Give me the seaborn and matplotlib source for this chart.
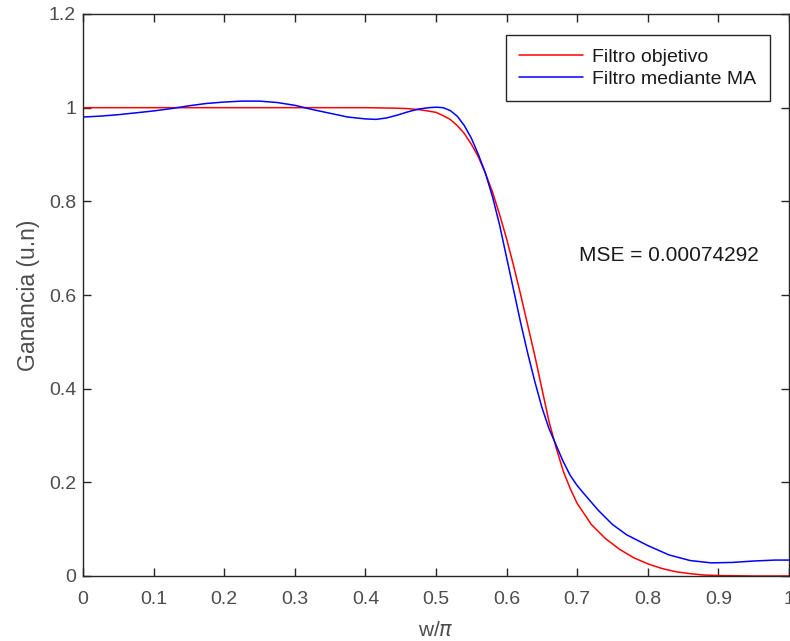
import numpy as np
import pandas as pd
import matplotlib
matplotlib.use("Agg")
import matplotlib.pyplot as plt
import seaborn as sns

# --- data ---
x_obj = [0.0, 0.1, 0.2, 0.3, 0.4, 0.44, 0.46, 0.48, 0.50, 0.51, 0.52, 0.53, 0.54, 0.55,
         0.56, 0.57, 0.58, 0.59, 0.60, 0.61, 0.62, 0.63, 0.64, 0.65, 0.66, 0.67, 0.68,
         0.69, 0.70, 0.72, 0.74, 0.76, 0.78, 0.80, 0.82, 0.84, 0.86, 0.88, 0.90, 0.95, 1.0]
y_obj = [1.0, 1.0, 1.0, 1.0, 1.0, 0.999, 0.998, 0.995, 0.99, 0.983, 0.975, 0.962, 0.945,
         0.922, 0.895, 0.86, 0.82, 0.772, 0.72, 0.662, 0.60, 0.535, 0.47, 0.40, 0.33,
         0.275, 0.225, 0.187, 0.155, 0.11, 0.08, 0.057, 0.039, 0.026, 0.016, 0.009,
         0.005, 0.002, 0.001, 0.0, 0.0]

x_ma = [0.0, 0.025, 0.05, 0.075, 0.10, 0.125, 0.15, 0.175, 0.20, 0.225, 0.25, 0.275,
        0.30, 0.325, 0.35, 0.375, 0.40, 0.415, 0.43, 0.445, 0.46, 0.475, 0.49, 0.50,
        0.51, 0.52, 0.53, 0.54, 0.55, 0.56, 0.57, 0.58, 0.59, 0.60, 0.61, 0.62, 0.63,
        0.64, 0.65, 0.66, 0.67, 0.68, 0.69, 0.70, 0.71, 0.73, 0.75, 0.77, 0.80, 0.83,
        0.86, 0.89, 0.92, 0.95, 0.98, 1.0]
y_ma = [0.980, 0.982, 0.985, 0.989, 0.993, 0.998, 1.004, 1.009, 1.012, 1.014, 1.014,
        1.011, 1.005, 0.996, 0.988, 0.980, 0.976, 0.975, 0.978, 0.984, 0.991, 0.997,
        1.0, 1.001, 1.0, 0.994, 0.982, 0.962, 0.935, 0.90, 0.86, 0.81, 0.75, 0.68,
        0.61, 0.54, 0.475, 0.415, 0.36, 0.315, 0.28, 0.245, 0.215, 0.193, 0.175, 0.14,
        0.11, 0.088, 0.065, 0.045, 0.033, 0.028, 0.029, 0.032, 0.034, 0.034]

labels = ["Filtro objetivo", "Filtro mediante MA"]
xticks = [0, 0.1, 0.2, 0.3, 0.4, 0.5, 0.6, 0.7, 0.8, 0.9, 1]
xticklabels = ["0", "0.1", "0.2", "0.3", "0.4", "0.5", "0.6", "0.7", "0.8", "0.9", "1"]
yticks = [0, 0.2, 0.4, 0.6, 0.8, 1.0, 1.2]
yticklabels = ["0", "0.2", "0.4", "0.6", "0.8", "1", "1.2"]
mse_text = "MSE = 0.00074292"

df = pd.concat([
    pd.DataFrame({"w": x_obj, "g": y_obj, "serie": labels[0]}),
    pd.DataFrame({"w": x_ma, "g": y_ma, "serie": labels[1]}),
])

sns.set_style("ticks")
plt.rcParams["font.family"] = ["Liberation Sans", "DejaVu Sans"]
plt.rcParams["mathtext.fontset"] = "dejavusans"

axc = "#262626"
fig = plt.figure(figsize=(7.9, 6.41), dpi=100)
ax = fig.add_axes([83/790, 1 - 576/641, 706/790, (576 - 14)/641])

sns.lineplot(data=df, x="w", y="g", hue="serie", palette=["#ff0000", "#0000ff"],
             linewidth=1.1, sort=False, estimator=None, ax=ax)

ax.set_xlim(0, 1)
ax.set_ylim(0, 1.2)
ax.set_xticks(xticks)
ax.set_xticklabels(xticklabels)
ax.set_yticks(yticks)
ax.set_yticklabels(yticklabels)
ax.tick_params(direction="in", length=6, width=1, colors=axc, labelsize=14,
               top=True, right=True, labelcolor="#4d4d4d")
ax.tick_params(axis="x", pad=11)
ax.tick_params(axis="y", pad=5)
for s in ax.spines.values():
    s.set_color(axc)
    s.set_linewidth(1.0)

ax.set_xlabel(r"w/$\pi$", fontsize=15, color="#4d4d4d", labelpad=9)
ax.set_ylabel("Ganancia (u.n)", fontsize=16.5, color="#4d4d4d", labelpad=6)

ax.text(0.703, 0.685, mse_text, fontsize=15, color="#1a1a1a", ha="left", va="center")

leg = ax.legend(loc="upper right", bbox_to_anchor=(0.973, 0.963), borderaxespad=0,
                fontsize=14, frameon=True, fancybox=False, shadow=False,
                handlelength=3.3, handletextpad=0.45, labelspacing=0.2, borderpad=0.7,
                title=None)
leg.get_frame().set_edgecolor(axc)
leg.get_frame().set_linewidth(1.0)
leg.get_frame().set_alpha(1)
for t in leg.get_texts():
    t.set_color("#1a1a1a")

fig.savefig("out.png", dpi=100)
